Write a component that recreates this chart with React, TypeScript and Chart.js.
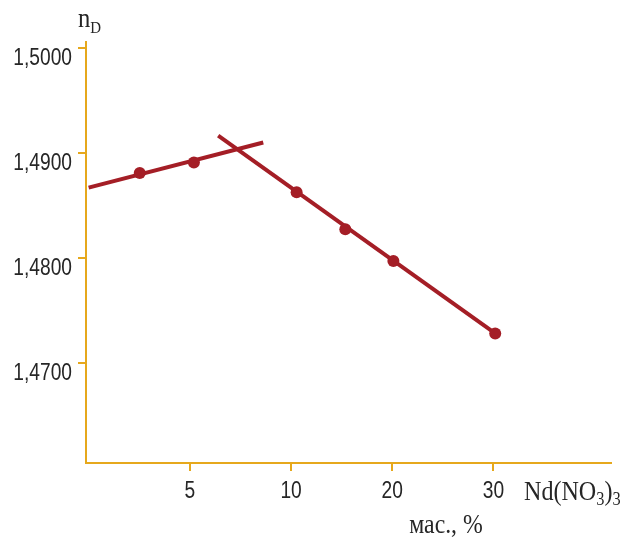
import React, { useEffect, useRef } from "react";
import { Chart, registerables } from "chart.js";

Chart.register(...registerables);

// x axis is drawn in its own (equally spaced) position units; tick labels are concentrations
const xTickPositions = [1, 2, 3, 4];
const xTickLabels = ["5", "10", "20", "30"];
const yTickValues = [1.47, 1.48, 1.49, 1.5];
const yTickLabels = ["1,4700", "1,4800", "1,4900", "1,5000"];

// measured points (x in axis position units, y = refractive index nD)
const pointX = [0.505, 1.04, 2.055, 2.536, 3.011, 4.017];
const pointY = [1.4881, 1.4891, 1.48627, 1.48274, 1.47971, 1.47281];

// fitted straight lines
const line1X = [0, 1.725];
const line1Y = [1.48671, 1.49101];
const line2X = [1.28, 4.017];
const line2Y = [1.49168, 1.47281];

const X_MIN = -0.026;
const X_MAX = 5.161;
const Y_MIN = 1.46045;
const Y_MAX = 1.5006;

const RED = "#A41E26";
const ORANGE = "#E6A81C";
const TEXT = "#262626";
const SANS = '"Liberation Sans", Arial, sans-serif';
const SERIF = '"Liberation Serif", "DejaVu Serif", serif';

const zip = (xs: number[], ys: number[]) => xs.map((x, i) => ({ x, y: ys[i] }));

// draw horizontally condensed text; returns advance width in px
function condText(
  ctx: CanvasRenderingContext2D,
  text: string,
  x: number,
  y: number,
  font: string,
  sx: number,
  align: "left" | "right" | "center" = "left"
): number {
  ctx.save();
  ctx.font = font;
  const w = ctx.measureText(text).width * sx;
  let x0 = x;
  if (align === "right") x0 = x - w;
  else if (align === "center") x0 = x - w / 2;
  ctx.translate(x0, y);
  ctx.scale(sx, 1);
  ctx.textAlign = "left";
  ctx.textBaseline = "alphabetic";
  ctx.fillText(text, 0, 0);
  ctx.restore();
  return w;
}

const titlesPlugin = {
  id: "titles",
  afterDraw(chart: any) {
    const ctx = chart.ctx as CanvasRenderingContext2D;
    const { left, top, right, bottom } = chart.chartArea;
    const xs = chart.scales.x;
    const ys = chart.scales.y;
    ctx.save();
    ctx.fillStyle = TEXT;
    const tickFont = `24px ${SANS}`;
    // y tick labels
    yTickValues.forEach((v, i) => {
      const py = ys.getPixelForValue(v);
      condText(ctx, yTickLabels[i], left - 14, py + 17, tickFont, 0.8, "right");
    });
    // x tick labels
    xTickPositions.forEach((v, i) => {
      const px = xs.getPixelForValue(v);
      condText(ctx, xTickLabels[i], px, bottom + 35, tickFont, 0.8, "center");
    });
    // y title: n_D
    const nw = condText(ctx, "n", left - 8, top - 15, `28px ${SERIF}`, 0.88);
    condText(ctx, "D", left - 8 + nw, top - 9, `17px ${SERIF}`, 0.88);
    // x title: Nd(NO3)3
    let x = right - 87;
    const yb = bottom + 37;
    const big = `28px ${SERIF}`;
    const small = `19px ${SERIF}`;
    const parts: [string, boolean][] = [["Nd(NO", false], ["3", true], [")", false], ["3", true]];
    for (const [t, sub] of parts) {
      x += condText(ctx, t, x, sub ? yb + 5 : yb, sub ? small : big, 0.86);
    }
    // units
    condText(ctx, "мас., %", 446, bottom + 70, `27px ${SERIF}`, 0.88, "center");
    ctx.restore();
  },
};

export default function App() {
  const canvasRef = useRef<HTMLCanvasElement | null>(null);

  useEffect(() => {
    const canvas = canvasRef.current;
    if (!canvas) return;
    const chart = new Chart(canvas, {
      type: "scatter",
      data: {
        datasets: [
          {
            data: zip(pointX, pointY),
            showLine: false,
            pointRadius: 6,
            pointBackgroundColor: RED,
            pointBorderColor: RED,
            pointBorderWidth: 0,
          } as any,
          {
            data: zip(line1X, line1Y),
            showLine: true,
            borderColor: RED,
            borderWidth: 4,
            pointRadius: 0,
            clip: false,
          } as any,
          {
            data: zip(line2X, line2Y),
            showLine: true,
            borderColor: RED,
            borderWidth: 4,
            pointRadius: 0,
            clip: false,
          } as any,
        ],
      },
      options: {
        responsive: false,
        animation: false,
        layout: { padding: { left: 0, top: 42, right: 15, bottom: 0 } },
        plugins: { legend: { display: false }, tooltip: { enabled: false } },
        scales: {
          x: {
            type: "linear",
            min: X_MIN,
            max: X_MAX,
            afterBuildTicks: (s: any) => {
              s.ticks = xTickPositions.map((v) => ({ value: v }));
            },
            afterFit: (s: any) => {
              s.height = 74;
            },
            ticks: { display: false },
            grid: {
              drawOnChartArea: false,
              drawTicks: true,
              tickLength: 8,
              color: ORANGE,
              lineWidth: 2,
            },
            border: { display: true, color: ORANGE, width: 2 },
          },
          y: {
            type: "linear",
            min: Y_MIN,
            max: Y_MAX,
            afterBuildTicks: (s: any) => {
              s.ticks = yTickValues.map((v) => ({ value: v }));
            },
            afterFit: (s: any) => {
              s.width = 86;
            },
            ticks: { display: false },
            grid: {
              drawOnChartArea: false,
              drawTicks: true,
              tickLength: 8,
              color: ORANGE,
              lineWidth: 2,
            },
            border: { display: true, color: ORANGE, width: 2 },
          },
        },
      } as any,
      plugins: [titlesPlugin],
    });
    return () => chart.destroy();
  }, []);

  return (
    <div style={{ position: "fixed", left: 0, top: 0, width: 626, height: 537, background: "#fff" }}>
      <canvas ref={canvasRef} width={626} height={537} style={{ width: 626, height: 537 }} />
    </div>
  );
}
